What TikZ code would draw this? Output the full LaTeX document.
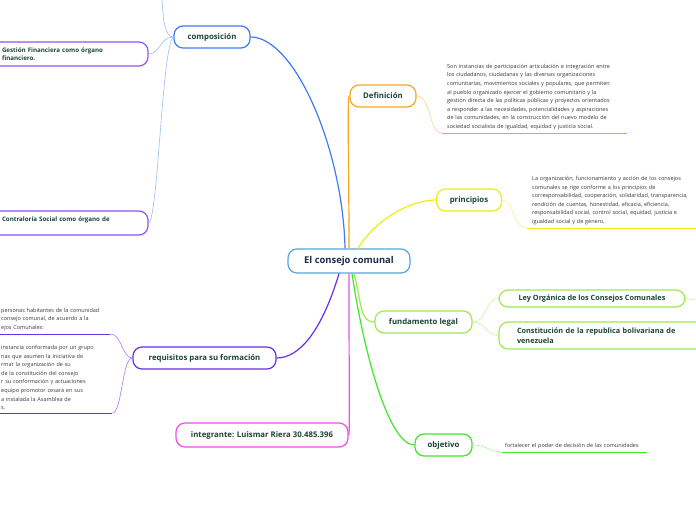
\documentclass[tikz,border=0pt]{standalone}
\usepackage{fontspec}
\setmainfont{Open Sans}

\definecolor{labeltext}{HTML}{1B4536}
\definecolor{centraltext}{HTML}{1A2B4C}
\definecolor{bodytext}{HTML}{3A3A3A}
\definecolor{centralblue}{HTML}{5AA5DB}
\definecolor{compblue}{HTML}{3F7BF5}
\definecolor{complight}{HTML}{9DBBF8}
\definecolor{subpurple}{HTML}{9254F2}
\definecolor{deforange}{HTML}{F5A623}
\definecolor{deflight}{HTML}{FAD38C}
\definecolor{prinyellow}{HTML}{EEEE11}
\definecolor{prinlight}{HTML}{F6F680}
\definecolor{fundgreen}{HTML}{9EEB4E}
\definecolor{fundlight}{HTML}{C6F59A}
\definecolor{objgreen}{HTML}{3FE828}
\definecolor{objlight}{HTML}{A5F595}
\definecolor{reqpurple}{HTML}{6B2EEA}
\definecolor{reqlight}{HTML}{A67CF5}
\definecolor{intmagenta}{HTML}{EE4EEE}

\tikzset{
  topic/.style={draw, rounded corners=9pt, line width=1.2pt, fill=white, text=labeltext,
    font=\fontsize{7.8}{9}\selectfont\bfseries, inner sep=0pt},
  subtopic/.style={topic, font=\fontsize{7.3}{9.5}\selectfont\bfseries, align=left},
  leaf/.style={topic, draw=subpurple, font=\fontsize{6.2}{8}\selectfont\bfseries, align=left},
  note/.style={anchor=south west, inner xsep=5pt, inner ysep=3pt, align=left, text=bodytext,
    font=\fontsize{5.5}{8.6}\selectfont},
  branch/.style={line width=1.2pt},
  twig/.style={line width=0.6pt},
  underline/.style={line width=1pt}
}

\begin{document}
\begin{tikzpicture}[x=1pt, y=-1pt]
    \useasboundingbox (0,0) rectangle (696,520);
    \path[fill=white] (0,0) rectangle (696,520);

    % central topic
    \node[topic, draw=centralblue, text=centraltext, font=\fontsize{9.4}{11}\selectfont\bfseries,
      minimum width=122pt, minimum height=24pt] (consejo) at (349,261) {El consejo comunal};

    % main topics
    \node[topic, draw=compblue, minimum width=76pt, minimum height=22pt] (composicion) at (212,37) {composición};
    \node[topic, draw=deforange, minimum width=66pt, minimum height=22pt] (definicion) at (383,96) {Definición};
    \node[topic, draw=prinyellow, minimum width=65pt, minimum height=22pt] (principios) at (469,200) {principios};
    \node[topic, draw=fundgreen, minimum width=97pt, minimum height=22pt] (fundamento) at (423.5,322) {fundamento legal};
    \node[topic, draw=objgreen, minimum width=57pt, minimum height=22pt] (objetivo) at (443.5,445) {objetivo};
    \node[topic, draw=reqpurple, minimum width=143pt, minimum height=22pt] (requisitos) at (204.5,358) {requisitos para su formación};
    \node[topic, draw=intmagenta, minimum width=172pt, minimum height=24pt] (integrante) at (262,435) {integrante: Luismar Riera 30.485.396};

    % subtopics
    \node[leaf, minimum width=168pt, minimum height=24pt, text width=124pt] (gestion) at (64,54)
      {Gestión Financiera como órgano\\financiero.};
    \node[leaf, minimum width=168pt, minimum height=24pt, text width=124pt] (contraloria) at (64,223)
      {Contraloría Social como órgano de\\\mbox{}};
    \node[subtopic, draw=fundgreen, minimum width=186pt, minimum height=17pt] (ley) at (592,298.5)
      {Ley Orgánica de los Consejos Comunales};
    \node[subtopic, draw=fundgreen, minimum width=221pt, minimum height=27pt, text width=185pt] (constitucion) at (609.5,335.5)
      {Constitución de la republica bolivariana de\\venezuela};

    % notes
    \node[note, text width=175pt] (defnote) at (442,133)
      {Son instancias de participación articulación e integración entre\\
       los ciudadanos, ciudadanas y las diversas organizaciones\\
       comunitarias, movimientos sociales y populares, que permiten\\
       al pueblo organizado ejercer el gobierno comunitario y la\\
       gestión directa de las políticas públicas y proyectos orientados\\
       a responder a las necesidades, potencialidades y aspiraciones\\
       de las comunidades, en la construcción del nuevo modelo de\\
       sociedad socialista de igualdad, equidad y justicia social.};
    \node[note, text width=175pt] (prinnote) at (527,228)
      {La organización, funcionamiento y acción de los consejos\\
       comunales se rige conforme a los principios de\\
       corresponsabilidad, cooperación, solidaridad, transparencia,\\
       rendición de cuentas, honestidad, eficacia, eficiencia,\\
       responsabilidad social, control social, equidad, justicia e\\
       igualdad social y de género.};
    \node[note, text width=139pt, inner xsep=3pt] (objnote) at (502,452)
      {fortalecer el poder de decisión de las comunidades};
    \node[note, text width=104pt] (requp) at (-4,334)
      {personas habitantes de la comunidad\\
       consejo comunal, de acuerdo a la\\
       ejos Comunales:};
    \node[note, text width=106pt] (reqlow) at (-4,413)
      {instancia conformada por un grupo\\
       nas que asumen la iniciativa de\\
       rmar la organización de su\\
       de la constitución del consejo\\
       r su conformación y actuaciones\\
       equipo promotor cesará en sus\\
       a instalada la Asamblea de\\
       s.};

    \coordinate (comptop) at (162,-2);
    \coordinate (leyend) at (698,300);

    % branches from the centre
    \draw[branch, compblue] ([xshift=-4pt]consejo.north) .. controls (343,150) and (295,37) .. (composicion.east);
    \draw[branch, deforange] (consejo.north) .. controls (349,160) and (347,96) .. (definicion.west);
    \draw[branch, prinyellow] ([xshift=9pt]consejo.north) .. controls (375,220) and (410,200) .. (principios.west);
    \draw[branch, fundgreen] ([xshift=5pt]consejo.south) .. controls (362,305) and (360,322) .. (fundamento.west);
    \draw[branch, objgreen] ([xshift=3pt]consejo.south) .. controls (365,360) and (390,445) .. (objetivo.west);
    \draw[branch, reqpurple] ([xshift=-10pt]consejo.south) .. controls (322,330) and (300,358) .. (requisitos.east);
    \draw[branch, intmagenta] (consejo.south) .. controls (349,400) and (350,435) .. (integrante.east);

    % twigs
    \draw[twig, complight] (composicion.west) .. controls (165,37) and (163,20) .. (comptop);
    \draw[twig, complight] (composicion.west) .. controls (160,37) and (160,54) .. (gestion.east);
    \draw[twig, complight] (composicion.west) .. controls (162,45) and (158,220) .. (contraloria.east);
    \draw[twig, deflight] (definicion.east) .. controls (432,96) and (428,133) .. (defnote.south west);
    \draw[twig, prinlight] (principios.east) .. controls (515,200) and (512,228) .. (prinnote.south west);
    \draw[twig, fundlight] (fundamento.east) .. controls (487,322) and (485,298.5) .. (ley.west);
    \draw[twig, fundlight] (fundamento.east) .. controls (487,322) and (485,335.5) .. (constitucion.west);
    \draw[twig, fundlight] (ley.east) .. controls (690,298.5) and (692,300) .. (leyend);
    \draw[twig, objlight] (objetivo.east) .. controls (488,445) and (488,452) .. (objnote.south west);
    \draw[twig, reqlight] (requisitos.west) .. controls (122,358) and (122,334) .. (requp.south east);
    \draw[twig, reqlight] (requisitos.west) .. controls (122,358) and (122,413) .. (reqlow.south east);

    % underlines
    \draw[underline, deforange] (defnote.south west) -- (defnote.south east);
    \draw[underline, prinyellow] (prinnote.south west) -- (prinnote.south east);
    \draw[underline, objgreen] (objnote.south west) -- (objnote.south east);
    \draw[underline, reqpurple] (requp.south west) -- (requp.south east);
    \draw[underline, reqpurple] (reqlow.south west) -- (reqlow.south east);
\end{tikzpicture}
\end{document}
